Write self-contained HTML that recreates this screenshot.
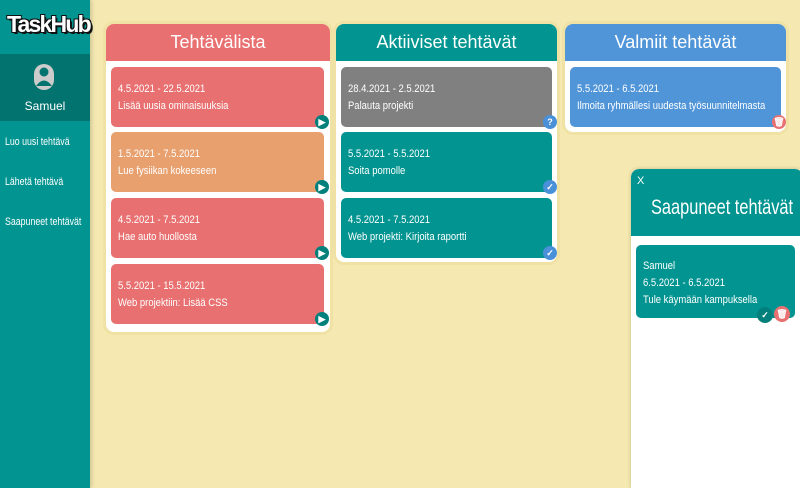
<!DOCTYPE html>
<html style="width:800px;height:488px;overflow:hidden"><head><meta charset="utf-8"><style>
*{margin:0;padding:0;box-sizing:border-box}
body{width:800px;height:488px;overflow:hidden;background:#f5e9b1;font-family:"Liberation Sans",sans-serif;color:#fff;position:relative}
.a{position:absolute}
.side{left:0;top:0;width:90px;height:488px;background:#019490;box-shadow:2px 0 4px rgba(0,0,0,.15)}
.logo{left:7px;top:11px;font:bold 23px "Liberation Sans",sans-serif;color:#fff;letter-spacing:-1.8px;text-shadow:-1px -1px 0 #111,1px -1px 0 #111,-1px 1px 0 #111,2px 2px 0 #111}
.user{left:0;top:54px;width:90px;height:67px;background:#02736f}
.menu{left:5px;font-size:11px;transform:scaleX(.8);transform-origin:left;white-space:nowrap}
.col{background:#fff;border-radius:8px;box-shadow:0 0 0 3px #efe2a4}
.hd{position:absolute;left:0;top:0;right:0;height:37px;border-radius:8px 8px 0 0;text-align:center;font-size:18px;line-height:37px}
.card{position:absolute;border-radius:5px;height:60px;padding:14px 0 0 7px;font-size:11px;line-height:17px}
.card div{transform:scaleX(.86);transform-origin:left;white-space:nowrap}
.ic{position:absolute;width:14px;height:14px;border-radius:50%;font-size:9px;text-align:center;line-height:14px;font-weight:bold}
</style></head><body>
<div class="a side"></div>
<div class="a logo">TaskHub</div>
<div class="a user"></div>
<svg class="a" style="left:33px;top:63px" width="22" height="28" viewBox="0 0 22 28"><rect x="1" y="1" width="20" height="26" rx="10" fill="#ccc"/><circle cx="11" cy="9" r="4.5" fill="#02736f"/><path d="M3 23 Q11 12 19 23 Z" fill="#02736f"/></svg>
<div class="a" style="left:0;width:90px;top:99px;text-align:center;font-size:12px">Samuel</div>
<div class="a menu" style="top:136px">Luo uusi tehtävä</div>
<div class="a menu" style="top:176px">Lähetä tehtävä</div>
<div class="a menu" style="top:216px">Saapuneet tehtävät</div>

<div class="a col" style="left:106px;top:24px;width:224px;height:308px">
<div class="hd" style="background:#e87070">Tehtävälista</div>
<div class="card" style="left:5px;top:43px;width:213px;background:#e87070"><div>4.5.2021 - 22.5.2021<br>Lisää uusia ominaisuuksia</div></div>
<div class="card" style="left:5px;top:108px;width:213px;background:#e8a06e"><div>1.5.2021 - 7.5.2021<br>Lue fysiikan kokeeseen</div></div>
<div class="card" style="left:5px;top:174px;width:213px;background:#e87070"><div>4.5.2021 - 7.5.2021<br>Hae auto huollosta</div></div>
<div class="card" style="left:5px;top:240px;width:213px;background:#e87070"><div>5.5.2021 - 15.5.2021<br>Web projektiin: Lisää CSS</div></div>
<div class="ic" style="left:209px;top:91px;background:#02807c">▶</div>
<div class="ic" style="left:209px;top:156px;background:#02807c">▶</div>
<div class="ic" style="left:209px;top:222px;background:#02807c">▶</div>
<div class="ic" style="left:209px;top:288px;background:#02807c">▶</div>
</div>

<div class="a col" style="left:336px;top:24px;width:221px;height:238px">
<div class="hd" style="background:#019490">Aktiiviset tehtävät</div>
<div class="card" style="left:5px;top:43px;width:211px;background:#808080"><div>28.4.2021 - 2.5.2021<br>Palauta projekti</div></div>
<div class="card" style="left:5px;top:108px;width:211px;background:#019490"><div>5.5.2021 - 5.5.2021<br>Soita pomolle</div></div>
<div class="card" style="left:5px;top:174px;width:211px;background:#019490"><div>4.5.2021 - 7.5.2021<br>Web projekti: Kirjoita raportti</div></div>
<div class="ic" style="left:207px;top:91px;background:#4a90d9">?</div>
<div class="ic" style="left:207px;top:156px;background:#4a90d9">✓</div>
<div class="ic" style="left:207px;top:222px;background:#4a90d9">✓</div>
</div>

<div class="a col" style="left:565px;top:24px;width:221px;height:108px">
<div class="hd" style="background:#5095d8">Valmiit tehtävät</div>
<div class="card" style="left:5px;top:43px;width:211px;background:#5095d8"><div>5.5.2021 - 6.5.2021<br>Ilmoita ryhmällesi uudesta työsuunnitelmasta</div></div>
<div class="ic" style="left:207px;top:91px;background:#e87070">🗑</div>
</div>

<div class="a" style="left:631px;top:169px;width:172px;height:319px;background:#fff;border-radius:8px 8px 0 0;box-shadow:0 0 4px rgba(0,0,0,.2);overflow:hidden">
<div style="position:absolute;left:0;top:0;width:100%;height:67px;background:#019490;border-radius:8px 8px 0 0"></div>
<div class="a" style="left:6px;top:6px;font-size:11px">X</div>
<div class="a" style="left:20px;top:27px;font-size:21px;white-space:nowrap;transform:scaleX(.78);transform-origin:left">Saapuneet tehtävät</div>
<div class="card" style="left:5px;top:76px;width:159px;height:73px;padding-top:13px;background:#019490"><div>Samuel<br>6.5.2021 - 6.5.2021<br>Tule käymään kampuksella</div></div>
<div class="ic" style="left:126px;top:138px;width:16px;height:16px;line-height:16px;background:#02807c">✓</div>
<div class="ic" style="left:143px;top:137px;width:16px;height:16px;line-height:16px;background:#e87070">🗑</div>
</div>
</body></html>
